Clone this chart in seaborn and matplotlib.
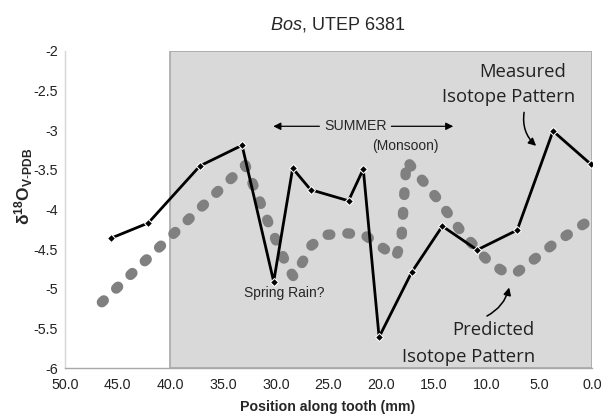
import matplotlib
matplotlib.use("Agg")
import matplotlib.pyplot as plt
import seaborn as sns
import pandas as pd

# Measured isotope pattern (black line)
meas_pos = [45.6, 42.1, 37.2, 33.2, 30.2, 28.4, 26.7, 23.1, 21.7, 20.2, 17.1, 14.2, 10.9, 7.1, 3.7, 0.1]
meas_d18o = [-4.36, -4.17, -3.45, -3.19, -4.91, -3.48, -3.75, -3.89, -3.49, -5.61, -4.79, -4.21, -4.51, -4.26, -3.01, -3.43]

# Predicted isotope pattern (gray dotted line)
pred_pos = [46.5, 32.9, 30.6, 28.8, 28.3, 27.5, 26.6, 25.2, 23.3, 21.6, 20.0, 18.6, 18.1, 17.6, 16.9, 14.7, 12.4, 9.8, 8.3, 7.1, 5.6, 3.5, 0.5]
pred_d18o = [-5.17, -3.44, -4.20, -4.75, -4.85, -4.67, -4.45, -4.32, -4.30, -4.32, -4.47, -4.60, -4.41, -3.38, -3.50, -3.86, -4.28, -4.66, -4.79, -4.79, -4.64, -4.42, -4.16]

x_ticks = [50, 45, 40, 35, 30, 25, 20, 15, 10, 5, 0]
y_ticks = [-2, -2.5, -3, -3.5, -4, -4.5, -5, -5.5, -6]
y_tick_labels = ["-2", "-2.5", "-3", "-3.5", "-4", "-4.5", "-5", "-5.5", "-6"]

sns.set_style("white")
plt.rcParams["font.family"] = ["Liberation Sans", "DejaVu Sans"]
plt.rcParams["mathtext.fontset"] = "custom"
plt.rcParams["mathtext.rm"] = "Liberation Sans"
plt.rcParams["mathtext.bf"] = "Liberation Sans:bold"
plt.rcParams["mathtext.it"] = "Liberation Sans:italic"

W, H = 608, 417
fig = plt.figure(figsize=(W / 100, H / 100), dpi=100)
ax = fig.add_axes([65 / W, 1 - 368 / H, (592 - 65) / W, (368 - 51) / H])

df_m = pd.DataFrame({"pos": meas_pos, "d18o": meas_d18o})
df_p = pd.DataFrame({"pos": pred_pos, "d18o": pred_d18o})

ax.axvspan(40, 0, ymin=0, ymax=1, facecolor="#d9d9d9", edgecolor="#a8a8a8", lw=1.2, zorder=0)

sns.lineplot(data=df_p, x="pos", y="d18o", ax=ax, sort=False, estimator=None,
             color="#808080", lw=7.5, zorder=2)
pl = ax.lines[-1]
pl.set_linestyle((0, (0.25, 1.65)))
pl.set_dash_capstyle("round")

sns.lineplot(data=df_m, x="pos", y="d18o", ax=ax, sort=False, estimator=None,
             color="black", lw=2.0, marker="D", markersize=3.6, zorder=3)

ax.set_xlim(50, 0)
ax.set_ylim(-6, -2)
ax.set_xticks(x_ticks)
ax.set_xticklabels([f"{v:.1f}" for v in x_ticks])
ax.set_yticks(y_ticks)
ax.set_yticklabels(y_tick_labels)
ax.tick_params(length=0, labelsize=10.3, colors="#222222")
ax.tick_params(axis="x", pad=7)
ax.tick_params(axis="y", pad=5)
ax.set_xlabel("")
ax.set_ylabel("")

for s in ["top", "right"]:
    ax.spines[s].set_visible(False)
ax.spines["left"].set_color("#d6d6d6")
ax.spines["bottom"].set_color("#a8a8a8")
ax.spines["left"].set_linewidth(1)
ax.spines["bottom"].set_linewidth(1)

# Title
fig.text(338 / W, 1 - 25 / H, r"$\mathit{Bos}$, UTEP 6381", ha="center", va="center", fontsize=13)
# Axis labels
fig.text(328 / W, 1 - 407 / H, "Position along tooth (mm)", ha="center", va="center",
         fontsize=10.2, fontweight="bold")
fig.text(24 / W, 1 - 186 / H, r"$\mathbf{\delta^{18}O_{V\text{-}PDB}}$", rotation=90,
         ha="center", va="center", fontsize=12.5)

# Annotations
ax.text(22.4, -2.95, "SUMMER", ha="center", va="center", fontsize=10.2)
ax.annotate("", xy=(30.5, -2.95), xytext=(25.6, -2.95),
            arrowprops=dict(arrowstyle="-|>", color="black", lw=0.9, mutation_scale=11))
ax.annotate("", xy=(12.9, -2.95), xytext=(19.3, -2.95),
            arrowprops=dict(arrowstyle="-|>", color="black", lw=0.9, mutation_scale=11))
ax.text(17.7, -3.2, "(Monsoon)", ha="center", va="center", fontsize=10)
ax.text(29.2, -5.05, "Spring Rain?", ha="center", va="center", fontsize=10)

call_font = dict(family=["Open Sans", "DejaVu Sans"], fontsize=13.3, color="#222222")
ax.text(6.62, -2.27, "Measured", ha="center", va="center", **call_font)
ax.text(7.95, -2.58, "Isotope Pattern", ha="center", va="center", **call_font)
ax.text(5.43, -5.52, "Predicted", ha="right", va="center", **call_font)
ax.text(5.43, -5.86, "Isotope Pattern", ha="right", va="center", **call_font)

ax.annotate("", xy=(5.1, -3.22), xytext=(6.4, -2.74),
            arrowprops=dict(arrowstyle="-|>", color="black", lw=1.1, mutation_scale=11,
                            connectionstyle="arc3,rad=0.3"))
ax.annotate("", xy=(7.8, -4.95), xytext=(10.2, -5.36),
            arrowprops=dict(arrowstyle="-|>", color="black", lw=1.1, mutation_scale=11,
                            connectionstyle="arc3,rad=0.25"))

fig.savefig("out.png", dpi=100)
